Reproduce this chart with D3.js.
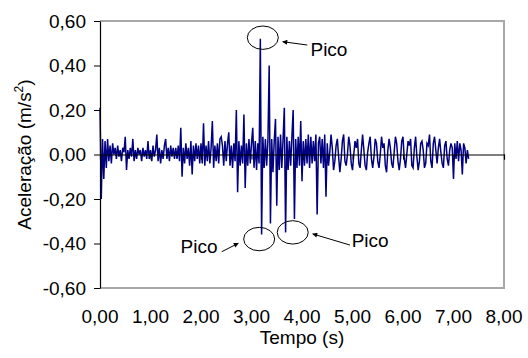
<!DOCTYPE html>
<html>
<head>
<meta charset="utf-8">
<script src="https://cdn.jsdelivr.net/npm/d3@7/dist/d3.min.js"></script>
<style>
  html, body { margin: 0; padding: 0; background: #fff; }
  svg { display: block; }
  text { font-family: "Liberation Sans", Arial, sans-serif; fill: #000; }
</style>
</head>
<body>
<svg id="chart" width="528" height="358"></svg>
<script>
// Accelerometer record, sampled every 0.025 s (0,00 s to 7,30 s)
const sampleInterval = 0.025;
const acceleration = [
  // 0,00 - 0,475 s
  0.21, -0.20, 0.07, -0.11, 0.06, -0.06, 0.07, -0.03, 0.04, -0.04, 0.05, 0.00, 0.03, -0.02, 0.04, -0.01, 0.02, -0.03, 0.03, 0.01,
  // 0,50 - 0,975 s
  0.08, -0.07, 0.02, -0.02, 0.03, -0.01, 0.07, -0.03, 0.02, -0.02, 0.03, 0.00, 0.02, -0.03, 0.03, -0.01, 0.02, -0.02, 0.06, -0.02,
  // 1,00 - 1,475 s
  0.02, -0.03, 0.04, -0.01, 0.02, 0.09, -0.03, 0.03, -0.04, 0.02, -0.02, 0.04, 0.07, -0.02, 0.03, -0.03, 0.04, -0.01, 0.03, -0.02,
  // 1,50 - 1,975 s
  0.03, -0.02, 0.04, -0.03, 0.12, -0.10, 0.03, -0.04, 0.05, -0.02, 0.03, -0.05, 0.06, -0.09, 0.04, -0.03, 0.05, -0.02, 0.04, -0.04,
  // 2,00 - 2,475 s
  0.05, -0.04, 0.14, -0.05, 0.04, -0.03, 0.06, -0.04, 0.03, 0.15, -0.06, 0.04, -0.03, 0.05, -0.04, 0.07, 0.08, 0.04, -0.05, 0.06,
  // 2,50 - 2,975 s
  -0.03, 0.05, 0.10, -0.05, 0.04, -0.06, 0.05, -0.03, 0.20, -0.17, 0.06, -0.05, 0.04, -0.04, 0.18, -0.15, 0.05, -0.05, 0.07, -0.04,
  // 3,00 - 3,475 s
  0.05, 0.12, -0.06, 0.06, -0.07, 0.05, -0.04, 0.52, -0.36, 0.08, -0.06, 0.07, -0.05, 0.06, 0.40, -0.31, 0.07, -0.08, 0.06, 0.16,
  // 3,50 - 3,975 s
  -0.23, 0.08, -0.07, 0.09, -0.06, 0.07, 0.21, -0.35, 0.08, -0.07, 0.06, -0.05, 0.08, 0.20, -0.29, 0.07, -0.06, 0.08, -0.05, 0.15,
  // 4,00 - 4,475 s
  -0.12, 0.06, -0.05, 0.07, -0.04, 0.09, -0.06, 0.08, -0.04, 0.06, -0.03, 0.09, -0.27, 0.05, 0.08, -0.04, 0.07, -0.06, 0.09, -0.19,
  // 4,50 - 4,975 s
  0.05, -0.05, 0.01, 0.09, 0.03, -0.07, -0.03, 0.04, 0.07, -0.01, -0.08, -0.02, 0.06, 0.09, -0.03, -0.05, 0.00, 0.08, 0.04, -0.04,
  // 5,00 - 5,475 s
  -0.07, 0.00, 0.06, 0.03, 0.07, -0.04, -0.06, 0.02, 0.09, 0.02, -0.05, -0.07, 0.01, 0.05, 0.08, -0.02, -0.06, -0.01, 0.07, 0.05,
  // 5,50 - 5,975 s
  -0.03, -0.06, 0.00, 0.08, 0.03, 0.05, -0.05, -0.08, 0.02, 0.07, 0.03, -0.04, -0.06, 0.01, 0.08, 0.05, -0.03, -0.07, -0.02, 0.06,
  // 6,00 - 6,475 s
  0.08, -0.02, -0.06, 0.00, 0.06, 0.04, 0.07, -0.05, -0.06, 0.03, 0.08, -0.01, -0.07, -0.03, 0.05, 0.06, 0.02, -0.06, -0.04, 0.05,
  // 6,50 - 6,975 s
  0.04, 0.09, -0.03, -0.06, 0.05, 0.08, 0.02, -0.04, 0.03, 0.07, 0.01, -0.04, -0.06, 0.04, 0.06, -0.02, -0.05, 0.02, 0.05, 0.03,
  // 7,00 - 7,30 s
  -0.11, 0.05, -0.02, 0.06, -0.03, 0.05, 0.02, -0.09, 0.05, 0.03, -0.04, 0.02, -0.02
];

const timeTicks = [0, 1, 2, 3, 4, 5, 6, 7, 8];
const accelTicks = [-0.6, -0.4, -0.2, 0, 0.2, 0.4, 0.6];

// Peak call-outs, in data units (time, acceleration)
const peakNotes = [
  { ellipse: [3.224, 0.525], arrowFrom: [4.105, 0.492], arrowTo: [3.618, 0.507], text: [4.168, 0.443] },
  { ellipse: [3.152, -0.380], arrowFrom: [2.410, -0.437], arrowTo: [2.739, -0.399], text: [1.594, -0.444] },
  { ellipse: [3.816, -0.350], arrowFrom: [4.950, -0.407], arrowTo: [4.212, -0.357], text: [4.984, -0.417] }
];

const ptBR = d3.formatLocale({ decimal: ",", thousands: ".", grouping: [3], currency: ["R$", ""], minus: "-" });
const fmt = ptBR.format(".2f");

const svg = d3.select("#chart");
const plotLeft = 100, plotRight = 504, plotTop = 21, plotBottom = 288;

const x = d3.scaleLinear().domain([0, 8]).range([plotLeft, plotRight]);
const y = d3.scaleLinear().domain([-0.6, 0.6]).range([plotBottom, plotTop]);

// Plot-area frame (top, right, bottom)
svg.append("path")
  .attr("d", `M${plotLeft},${plotTop}H${plotRight}V${plotBottom}H${plotLeft}`)
  .attr("fill", "none")
  .attr("stroke", "#a8a8a8")
  .attr("stroke-width", 2);

// Signal
const series = acceleration.map((v, i) => [i * sampleInterval, v]);
svg.append("path")
  .datum(series)
  .attr("fill", "none")
  .attr("stroke", "#000080")
  .attr("stroke-width", 1.5)
  .attr("stroke-linejoin", "miter")
  .attr("d", d3.line().x(d => x(d[0])).y(d => y(d[1])));

// Time axis, crossing at zero acceleration
const xAxis = svg.append("g")
  .attr("transform", `translate(0,${y(0)})`)
  .call(d3.axisBottom(x).tickValues(timeTicks).tickSize(5).tickFormat(""));
xAxis.select(".domain").attr("stroke", "#000").attr("stroke-width", 1.2);
xAxis.selectAll(".tick line").attr("stroke", "#000");

// Time tick labels below the plot area
svg.append("g").selectAll("text")
  .data(timeTicks)
  .join("text")
  .attr("x", d => x(d))
  .attr("y", plotBottom + 34.5)
  .attr("text-anchor", "middle")
  .attr("font-size", 19)
  .text(d => fmt(d));

// Acceleration axis
const yAxis = svg.append("g")
  .attr("transform", `translate(${plotLeft},0)`)
  .call(d3.axisLeft(y).tickValues(accelTicks).tickSize(6).tickSizeOuter(0).tickPadding(8).tickFormat(fmt));
yAxis.select(".domain").attr("stroke", "#000").attr("stroke-width", 1.2);
yAxis.selectAll(".tick line").attr("stroke", "#000");
yAxis.selectAll(".tick text")
  .attr("font-size", 19)
  .attr("font-family", "Liberation Sans, Arial, sans-serif")
  .attr("fill", "#000");

// Axis titles
svg.append("text")
  .attr("x", (plotLeft + plotRight) / 2)
  .attr("y", 344)
  .attr("text-anchor", "middle")
  .attr("font-size", 19)
  .text("Tempo (s)");

const yTitle = svg.append("text")
  .attr("transform", `translate(31,${(plotTop + plotBottom) / 2}) rotate(-90)`)
  .attr("text-anchor", "middle")
  .attr("font-size", 19);
yTitle.append("tspan").text("Aceleração (m/s");
yTitle.append("tspan").attr("font-size", 12).attr("dy", -8).text("2");
yTitle.append("tspan").attr("dy", 8).text(")");

// Arrowhead marker
svg.append("defs").append("marker")
  .attr("id", "arrow")
  .attr("viewBox", "0 0 10 10")
  .attr("refX", 9).attr("refY", 5)
  .attr("markerWidth", 7).attr("markerHeight", 5)
  .attr("markerUnits", "userSpaceOnUse")
  .attr("orient", "auto")
  .append("path").attr("d", "M0,0L10,5L0,10Z").attr("fill", "#000");

const notes = svg.append("g");
peakNotes.forEach(n => {
  notes.append("ellipse")
    .attr("cx", x(n.ellipse[0])).attr("cy", y(n.ellipse[1]))
    .attr("rx", 15.5).attr("ry", 11.7)
    .attr("fill", "none").attr("stroke", "#000").attr("stroke-width", 1);
  notes.append("line")
    .attr("x1", x(n.arrowFrom[0])).attr("y1", y(n.arrowFrom[1]))
    .attr("x2", x(n.arrowTo[0])).attr("y2", y(n.arrowTo[1]))
    .attr("stroke", "#000").attr("stroke-width", 1)
    .attr("marker-end", "url(#arrow)");
  notes.append("text")
    .attr("x", x(n.text[0])).attr("y", y(n.text[1]))
    .attr("font-size", 19)
    .text("Pico");
});
</script>
</body>
</html>
